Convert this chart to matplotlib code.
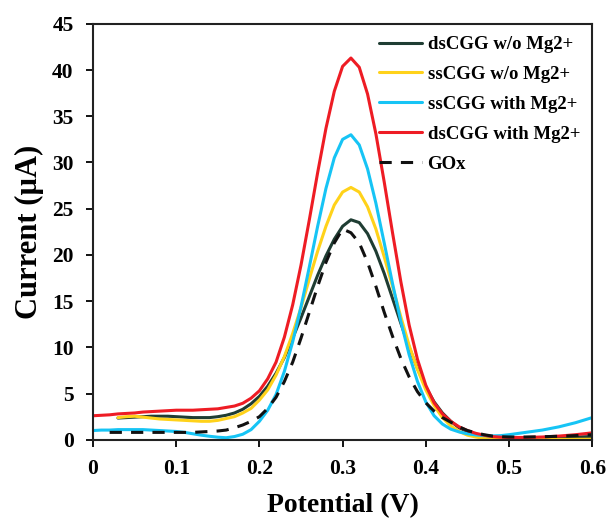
"""DPV curves: current vs potential for CGG sensor variants."""
import numpy as np
import matplotlib
matplotlib.use("Agg")
import matplotlib.pyplot as plt

# potential (V)
potential = [0.00, 0.01, 0.02, 0.03, 0.04, 0.05, 0.06, 0.07, 0.08, 0.09,
             0.10, 0.11, 0.12, 0.13, 0.14, 0.15, 0.16, 0.17, 0.18, 0.19,
             0.20, 0.21, 0.22, 0.23, 0.24, 0.25, 0.26, 0.27, 0.28, 0.29,
             0.30, 0.31, 0.32, 0.33, 0.34, 0.35, 0.36, 0.37, 0.38, 0.39,
             0.40, 0.41, 0.42, 0.43, 0.44, 0.45, 0.46, 0.47, 0.48, 0.49,
             0.50, 0.52, 0.54, 0.56, 0.58, 0.60]

# current (uA), None = no data
ds_no_mg = [None, None, None, 2.35, 2.4, 2.45, 2.5, 2.55, 2.55, 2.55,
            2.5, 2.45, 2.4, 2.4, 2.4, 2.5, 2.65, 2.9, 3.3, 3.9,
            4.7, 5.8, 7.2, 8.9, 11.0, 13.2, 15.5, 17.8, 19.9, 21.7,
            23.1, 23.8, 23.5, 22.3, 20.4, 18.0, 15.3, 12.6, 10.0, 7.7,
            5.7, 4.1, 2.9, 2.0, 1.3, 0.9, 0.6, 0.4, 0.3, 0.25,
            0.2, 0.2, 0.22, 0.25, 0.3, 0.35]
ss_no_mg = [None, None, None, 2.4, 2.5, 2.55, 2.45, 2.35, 2.25, 2.2,
            2.15, 2.1, 2.05, 2.0, 2.0, 2.1, 2.3, 2.5, 2.9, 3.4,
            4.3, 5.4, 7.0, 9.0, 11.5, 14.3, 17.4, 20.4, 23.1, 25.4,
            26.8, 27.3, 26.8, 25.2, 22.8, 19.8, 16.6, 13.3, 10.2, 7.6,
            5.4, 3.7, 2.4, 1.5, 0.9, 0.5, 0.3, 0.15, 0.06, 0.03,
            0.02, 0.02, 0.03, 0.04, 0.05, 0.06]
ss_mg = [1.0, 1.05, 1.05, 1.1, 1.1, 1.1, 1.1, 1.05, 1.0, 0.95,
         0.9, 0.8, 0.65, 0.5, 0.38, 0.28, 0.22, 0.35, 0.6, 1.1,
         2.0, 3.2, 4.9, 7.4, 10.6, 14.4, 18.7, 23.1, 27.2, 30.5,
         32.5, 33.0, 31.9, 29.3, 25.6, 21.3, 16.9, 12.8, 9.2, 6.3,
         4.1, 2.6, 1.7, 1.15, 0.85, 0.65, 0.52, 0.45, 0.42, 0.45,
         0.55, 0.8, 1.05, 1.4, 1.85, 2.4]
ds_mg = [2.6, 2.65, 2.7, 2.8, 2.85, 2.9, 3.0, 3.05, 3.1, 3.15,
         3.2, 3.2, 3.2, 3.25, 3.3, 3.35, 3.5, 3.65, 3.95, 4.5,
         5.3, 6.6, 8.4, 11.1, 14.6, 18.9, 23.8, 28.9, 33.7, 37.7,
         40.4, 41.3, 40.3, 37.4, 33.1, 27.9, 22.4, 17.1, 12.4, 8.7,
         5.9, 4.0, 2.8, 2.0, 1.4, 1.0, 0.7, 0.5, 0.35, 0.28,
         0.25, 0.25, 0.3, 0.4, 0.55, 0.75]
gox = [None, None, 0.8, 0.8, 0.8, 0.8, 0.8, 0.8, 0.8, 0.8,
       0.8, 0.8, 0.8, 0.85, 0.9, 0.95, 1.05, 1.3, 1.6, 2.0,
       2.5, 3.4, 4.6, 6.3, 8.4, 11.0, 13.8, 16.6, 19.2, 21.3,
       22.8, 22.4, 21.3, 19.2, 16.6, 13.8, 11.2, 8.8, 6.8, 5.2,
       4.0, 3.1, 2.4, 1.9, 1.4, 1.0, 0.75, 0.55, 0.4, 0.33,
       0.3, 0.3, 0.33, 0.38, 0.45, 0.55]

x_ticks = [0, 0.1, 0.2, 0.3, 0.4, 0.5, 0.6]
x_tick_labels = ["0", "0.1", "0.2", "0.3", "0.4", "0.5", "0.6"]
y_ticks = [0, 5, 10, 15, 20, 25, 30, 35, 40, 45]


def arr(values):
    return np.array([np.nan if v is None else v for v in values], dtype=float)


plt.rcParams["font.family"] = ["Liberation Serif", "DejaVu Serif"]
plt.rcParams["font.weight"] = "bold"

fig = plt.figure(figsize=(6.08, 5.18), dpi=100)
ax = fig.add_axes([0.153, 0.151, 0.821, 0.803])

x = np.array(potential)
style = dict(linewidth=2.2, solid_joinstyle="round", solid_capstyle="round")
ax.plot(x, arr(ds_no_mg), color="#1f3d33", label="dsCGG w/o Mg2+", **style)
ax.plot(x, arr(ss_no_mg), color="#ffd21a", label="ssCGG w/o Mg2+", **style)
ax.plot(x, arr(ss_mg), color="#16c4f5", label="ssCGG with Mg2+", **style)
ax.plot(x, arr(ds_mg), color="#ee1c24", label="dsCGG with Mg2+", **style)
ax.plot(x, arr(gox), color="#111111", linewidth=2.2, linestyle=(0, (4, 3)), label="GOx")

ax.set_xlim(0, 0.6)
ax.set_ylim(0, 45)
ax.set_xticks(x_ticks)
ax.set_xticklabels(x_tick_labels)
ax.set_yticks(y_ticks)
ax.tick_params(direction="out", length=5, width=1.3, labelsize=15.5, pad=9)
for side in ax.spines.values():
    side.set_linewidth(1.5)
    side.set_color("#222222")

ax.set_xlabel("Potential (V)", fontsize=20, fontweight="bold", labelpad=10)
ax.set_ylabel("Current (\u00b5A)", fontsize=22, fontweight="bold", labelpad=6)

ax.legend(loc="upper right", frameon=False,
          handlelength=2.3, labelspacing=0.68, handletextpad=0.3,
          borderaxespad=0.4, borderpad=0.25, prop={"weight": "bold", "size": 13.5})

fig.savefig("out.png", dpi=100)
